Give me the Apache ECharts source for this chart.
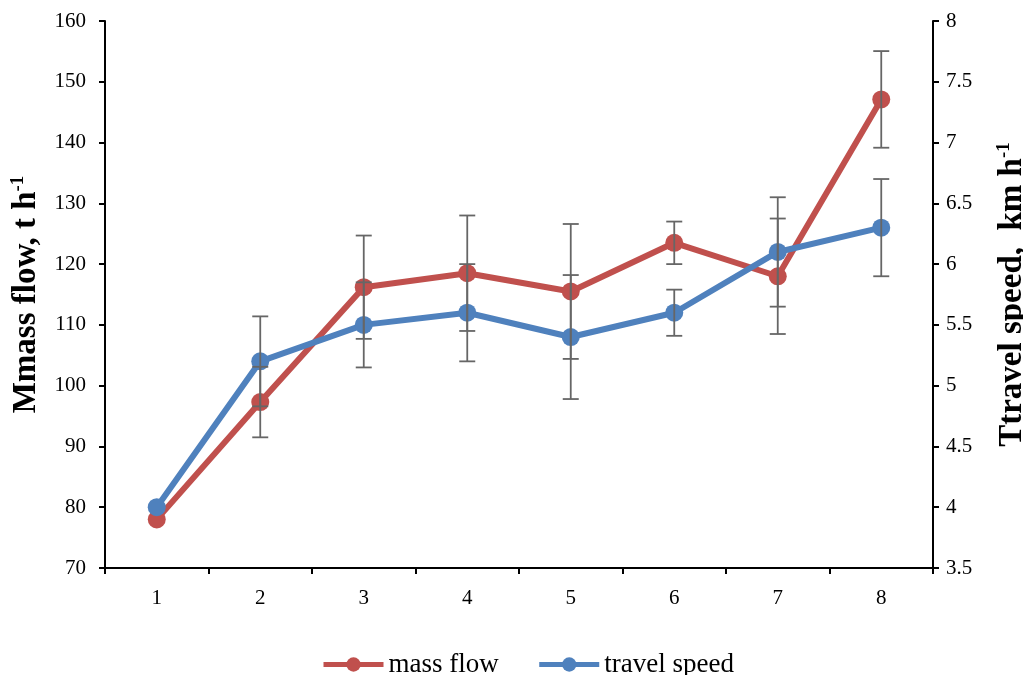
<!DOCTYPE html>
<html>
<head>
<meta charset="utf-8">
<script src="https://cdn.jsdelivr.net/npm/echarts@6/dist/echarts.min.js"></script>
<style>html,body{margin:0;padding:0;background:#fff;overflow:hidden}#c{width:1023px;height:675px}</style>
</head>
<body>
<div id="c"></div>
<script>
var categories = ['1','2','3','4','5','6','7','8'];
var massFlow = [78, 97.3, 116.2, 118.5, 115.5, 123.5, 118, 147.1];
var massFlowErr = [0, 5.8, 8.5, 9.5, 11.1, 3.5, 9.5, 7.95];
var travelSpeed = [4.0, 5.2, 5.5, 5.6, 5.4, 5.6, 6.1, 6.3];
var travelSpeedErr = [0, 0.37, 0.35, 0.40, 0.51, 0.19, 0.45, 0.4];

var chart = echarts.init(document.getElementById('c'));
var font = '"Liberation Serif", "Times New Roman", serif';

function errData(vals, errs) {
  return vals.map(function (v, i) { return [i, v, errs[i]]; });
}
function renderErr(params, api) {
  var x = api.value(0), v = api.value(1), e = api.value(2);
  if (!e) return null;
  var hi = api.coord([x, v + e]);
  var lo = api.coord([x, v - e]);
  var w = 8;
  var st = { stroke: '#666', lineWidth: 1.8 };
  return {
    type: 'group',
    children: [
      { type: 'line', shape: { x1: hi[0], y1: hi[1], x2: lo[0], y2: lo[1] }, style: st },
      { type: 'line', shape: { x1: hi[0] - w, y1: hi[1], x2: hi[0] + w, y2: hi[1] }, style: st },
      { type: 'line', shape: { x1: lo[0] - w, y1: lo[1], x2: lo[0] + w, y2: lo[1] }, style: st }
    ]
  };
}

var axisLabelStyle = { color: '#000', fontFamily: font, fontSize: 21 };
var nameStyle = {
  color: '#000', fontFamily: font, fontSize: 33, fontWeight: 'bold',
  rich: {
    b: { fontFamily: font, fontSize: 33, fontWeight: 'bold', color: '#000' },
    s: { fontFamily: font, fontSize: 19, fontWeight: 'bold', color: '#000', verticalAlign: 'top', padding: [0, 0, 15, 0] }
  }
};

chart.setOption({
  animation: false,
  backgroundColor: '#fff',
  grid: { left: 105, right: 90, top: 21, bottom: 107, containLabel: false, outerBoundsMode: 'none' },
  legend: {
    top: 646,
    left: 316,
    data: ['mass flow', 'travel speed'],
    itemWidth: 60,
    itemHeight: 18,
    itemGap: 38,
    lineStyle: { width: 5 },
    textStyle: { color: '#000', fontFamily: font, fontSize: 27 }
  },
  xAxis: {
    type: 'category',
    data: categories,
    boundaryGap: true,
    axisLine: { lineStyle: { color: '#000', width: 2 } },
    axisTick: { show: true, alignWithLabel: false, length: 6, lineStyle: { color: '#000', width: 2 } },
    axisLabel: Object.assign({ margin: 20 }, axisLabelStyle),
    splitLine: { show: false }
  },
  yAxis: [
    {
      type: 'value', min: 70, max: 160, interval: 10,
      name: '{b|Mmass flow, t h}{s|-1}',
      nameLocation: 'middle', nameRotate: 90, nameGap: 62,
      nameTextStyle: nameStyle,
      axisLine: { show: true, lineStyle: { color: '#000', width: 2 } },
      axisTick: { show: true, length: 6, lineStyle: { color: '#000', width: 2 } },
      axisLabel: Object.assign({ margin: 19 }, axisLabelStyle),
      splitLine: { show: false }
    },
    {
      type: 'value', min: 3.5, max: 8, interval: 0.5,
      name: '{b|Ttravel speed,  km h}{s|-1}',
      nameLocation: 'middle', nameRotate: 90, nameGap: 62,
      nameTextStyle: nameStyle,
      axisLine: { show: true, lineStyle: { color: '#000', width: 2 } },
      axisTick: { show: true, length: 6, lineStyle: { color: '#000', width: 2 } },
      axisLabel: Object.assign({ margin: 13 }, axisLabelStyle),
      splitLine: { show: false }
    }
  ],
  series: [
    {
      name: 'mass flow', type: 'line', yAxisIndex: 0,
      data: massFlow,
      symbol: 'circle', symbolSize: 18,
      lineStyle: { color: '#C0504D', width: 6 },
      itemStyle: { color: '#C0504D' },
      z: 2
    },
    {
      name: 'travel speed', type: 'line', yAxisIndex: 1,
      data: travelSpeed,
      symbol: 'circle', symbolSize: 18,
      lineStyle: { color: '#4F81BD', width: 6 },
      itemStyle: { color: '#4F81BD' },
      z: 3
    },
    {
      name: 'massErr', type: 'custom', yAxisIndex: 0,
      data: errData(massFlow, massFlowErr),
      renderItem: renderErr, z: 5, silent: true
    },
    {
      name: 'speedErr', type: 'custom', yAxisIndex: 1,
      data: errData(travelSpeed, travelSpeedErr),
      renderItem: renderErr, z: 5, silent: true
    }
  ]
});
</script>
</body>
</html>
